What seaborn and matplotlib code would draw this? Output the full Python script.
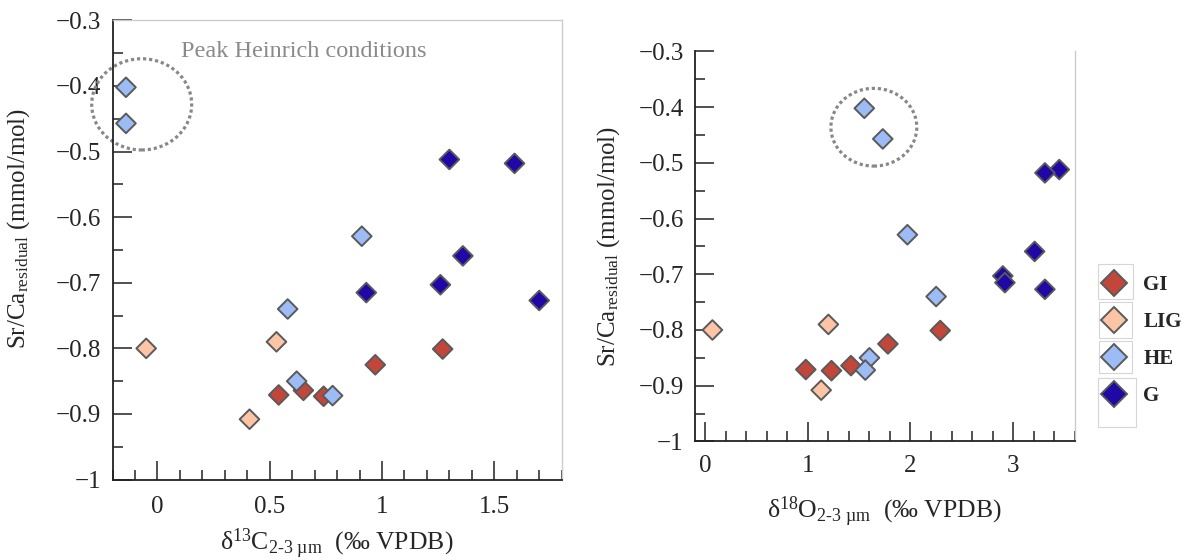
import pandas as pd
import seaborn as sns
import matplotlib.pyplot as plt
from matplotlib.patches import Ellipse, Rectangle
from matplotlib.ticker import MultipleLocator, FuncFormatter

sns.set_style('ticks')
plt.rcParams['font.family'] = ['Liberation Serif', 'DejaVu Serif']
plt.rcParams['mathtext.fontset'] = 'custom'
plt.rcParams['mathtext.rm'] = 'Liberation Serif'
plt.rcParams['mathtext.it'] = 'Liberation Serif:italic'
plt.rcParams['mathtext.bf'] = 'Liberation Serif:bold'

# 数据：每个点的分组、δ13C、δ18O 和 Sr/Ca 残差
groups = ['GI'] * 5 + ['LIG'] * 3 + ['HE'] * 6 + ['G'] * 6
d13c = [0.54, 0.74, 0.65, 0.97, 1.27,
        -0.05, 0.53, 0.41,
        -0.14, -0.14, 0.91, 0.58, 0.62, 0.78,
        1.30, 1.59, 1.36, 1.26, 0.93, 1.70]
d18o = [0.98, 1.23, 1.42, 1.78, 2.29,
        0.07, 1.20, 1.13,
        1.55, 1.73, 1.97, 2.25, 1.60, 1.56,
        3.45, 3.31, 3.21, 2.90, 2.92, 3.31]
srca = [-0.871, -0.873, -0.864, -0.825, -0.801,
        -0.800, -0.790, -0.908,
        -0.402, -0.457, -0.629, -0.740, -0.850, -0.872,
        -0.512, -0.518, -0.659, -0.703, -0.715, -0.727]
order = ['GI', 'LIG', 'HE', 'G']
colors = ['#c2473a', '#fdc4a6', '#9dbbf5', '#1f08a5']

df = pd.DataFrame({'group': groups, 'd13C': d13c, 'd18O': d18o, 'SrCa': srca})
palette = dict(zip(order, colors))

fig = plt.figure(figsize=(11.88, 5.6), dpi=100)
ax1 = fig.add_axes([0.0947, 0.1436, 0.3781, 0.82])
ax2 = fig.add_axes([0.585, 0.2118, 0.3196, 0.6963])

fmt = FuncFormatter(lambda v, p: f'{v:g}'.replace('-', '\u2212'))
ylab = r'Sr/Ca$_{\mathrm{residual}}$ (mmol/mol)'

for ax, xcol, show in [(ax1, 'd13C', False), (ax2, 'd18O', True)]:
    sns.scatterplot(data=df, x=xcol, y='SrCa', hue='group', hue_order=order,
                    palette=palette, marker='D', s=100, edgecolor='#5a5a5a',
                    linewidth=1.4, ax=ax, legend=show, zorder=3)
    ax.set_ylim(-1, -0.3)
    ax.yaxis.set_major_locator(MultipleLocator(0.1))
    ax.yaxis.set_minor_locator(MultipleLocator(0.05))
    ax.yaxis.set_major_formatter(fmt)
    ax.xaxis.set_major_formatter(fmt)
    ax.tick_params(which='both', direction='in', top=False, right=False,
                   labelsize=18, width=1.1, color='#222222', pad=8)
    ax.tick_params(which='major', length=14)
    ax.tick_params(which='minor', length=7)
    for s in ['left', 'bottom']:
        ax.spines[s].set_color('#222222')
        ax.spines[s].set_linewidth(1.3)
    ax.spines['right'].set_color('#cccccc')
    ax.spines['right'].set_linewidth(1.0)
    ax.spines['top'].set_color('#cccccc')
    ax.spines['top'].set_linewidth(1.0)
    ax.set_ylabel(ylab, fontsize=18, labelpad=12)

ax1.set_xlim(-0.2, 1.8)
ax1.xaxis.set_major_locator(MultipleLocator(0.5))
ax1.xaxis.set_minor_locator(MultipleLocator(0.1))
ax1.tick_params(axis='x', which='both', pad=12)
ax1.set_xlabel(r'δ$^{13}$C$_{\mathrm{2}\text{-}\mathrm{3\ µm}}$  (‰ VPDB)', fontsize=18.5, labelpad=6)
ax1.yaxis.set_label_coords(-0.179, 0.546)

ax2.set_xlim(-0.1, 3.6)
ax2.xaxis.set_major_locator(MultipleLocator(1))
ax2.xaxis.set_minor_locator(MultipleLocator(0.2))
ax2.tick_params(axis='x', which='both', pad=9.5)
ax2.spines['top'].set_visible(False)
ax2.set_xlabel(r'δ$^{18}$O$_{\mathrm{2}\text{-}\mathrm{3\ µm}}$  (‰ VPDB)', fontsize=18.5, labelpad=13)

# 虚线圈标注 Heinrich 峰值条件
ax1.add_patch(Ellipse((-0.07, -0.428), 0.445, 0.139, fill=False, ec='#888888',
                      lw=2.3, ls=(0, (1, 0.9)), clip_on=False, zorder=2))
ax2.add_patch(Ellipse((1.643, -0.436), 0.837, 0.1395, fill=False, ec='#888888',
                      lw=2.3, ls=(0, (1, 0.9)), clip_on=False, zorder=2))
ax1.text(0.105, -0.348, 'Peak Heinrich conditions', color='#8a8a8a',
         fontsize=17.5, va='center', ha='left')

# 图例
handles, labels = ax2.get_legend_handles_labels()
ax2.get_legend().remove()
fig.legend(handles, labels, loc='upper left', bbox_to_anchor=(0.929, 0.509),
           frameon=False, borderpad=0, borderaxespad=0, handlelength=1.0,
           handletextpad=0.9, labelspacing=0.82, markerscale=1.35,
           prop={'weight': 'bold', 'size': 15})
for (x0, y0, x1, y1) in [(1098, 264, 1133, 299), (1099, 302, 1132, 338),
                         (1099, 341, 1132, 373), (1098, 378, 1136, 427)]:
    fig.patches.append(Rectangle((x0 / 1188, 1 - y1 / 560), (x1 - x0) / 1188,
                                 (y1 - y0) / 560, transform=fig.transFigure,
                                 fill=False, ec='#d6d6d6', lw=0.8))

fig.savefig('out.png', dpi=100)
